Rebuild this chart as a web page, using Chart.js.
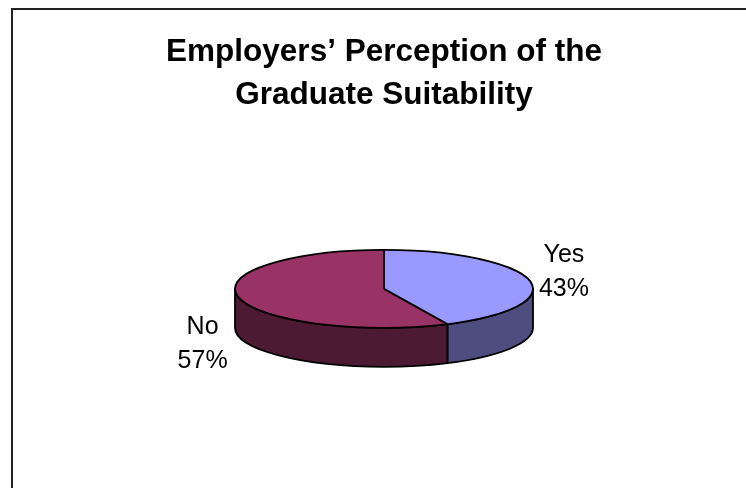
<!DOCTYPE html>
<html><head><meta charset="utf-8">
<style>html,body{margin:0;padding:0;background:#fff;overflow:hidden}
#wrap{position:absolute;left:0;top:0;width:746px;height:488px;overflow:hidden}
#frame{position:absolute;left:11px;top:8px;width:760px;height:500px;border:2px solid #222;box-sizing:border-box;pointer-events:none}
</style>
<script src="https://cdn.jsdelivr.net/npm/chart.js@4/dist/chart.umd.min.js"></script>
</head><body>
<div id="wrap"><canvas id="c" width="746" height="488"></canvas><div id="frame"></div></div>
<script>
const categories = ["Yes", "No"];
const seriesValues = [43, 57];
const topColors = ["#9999FF", "#993366"];
const sideColors = ["#4D4D80", "#4D1A33"];
const titleLines = ["Employers’ Perception of the", "Graduate Suitability"];

const SQUASH = 39 / 149, DEPTH = 39;
const LABEL_OFFSETS = [[34.5, -8], [-36, 46.5]];

function ellipsePt(a, cx, cy, r) { return [cx + r * Math.cos(a), cy + r * SQUASH * Math.sin(a)]; }

const pie3d = {
  id: "pie3d",
  beforeDatasetDraw(chart) {
    const ctx = chart.ctx, arcs = chart.getDatasetMeta(0).data;
    const { x: cx, y: cy, outerRadius: r } = arcs[0].getProps(["x", "y", "outerRadius"], true);
    ctx.save();
    ctx.strokeStyle = "#000"; ctx.lineWidth = 1.8; ctx.lineJoin = "round";
    arcs.forEach((arc, i) => {
      const p = arc.getProps(["startAngle", "endAngle"], true);
      const a0 = Math.max(p.startAngle, 0), a1 = Math.min(p.endAngle, Math.PI);
      if (a1 <= a0) return;
      ctx.beginPath();
      ctx.ellipse(cx, cy, r, r * SQUASH, 0, a0, a1);
      ctx.ellipse(cx, cy + DEPTH, r, r * SQUASH, 0, a1, a0, true);
      ctx.closePath();
      ctx.fillStyle = sideColors[i];
      ctx.fill(); ctx.stroke();
    });
    ctx.restore();
    ctx.save();
    ctx.translate(cx, cy); ctx.scale(1, SQUASH); ctx.translate(-cx, -cy);
  },
  afterDatasetDraw(chart) {
    const ctx = chart.ctx, arcs = chart.getDatasetMeta(0).data;
    ctx.restore();
    const { x: cx, y: cy, outerRadius: r } = arcs[0].getProps(["x", "y", "outerRadius"], true);
    ctx.save();
    ctx.strokeStyle = "#000"; ctx.lineWidth = 1.8; ctx.lineJoin = "round";
    ctx.beginPath(); ctx.ellipse(cx, cy, r, r * SQUASH, 0, 0, Math.PI * 2); ctx.stroke();
    arcs.forEach(arc => {
      const p = arc.getProps(["startAngle"], true);
      const [px, py] = ellipsePt(p.startAngle, cx, cy, r);
      ctx.beginPath(); ctx.moveTo(cx, cy); ctx.lineTo(px, py); ctx.stroke();
    });
    ctx.fillStyle = "#000";
    ctx.font = "25px 'Liberation Sans', Arial, sans-serif";
    ctx.textAlign = "center"; ctx.textBaseline = "middle";
    const total = seriesValues.reduce((a, b) => a + b, 0);
    arcs.forEach((arc, i) => {
      const p = arc.getProps(["startAngle", "endAngle"], true);
      const [px, py] = ellipsePt((p.startAngle + p.endAngle) / 2, cx, cy, r);
      const lx = px + LABEL_OFFSETS[i][0], ly = py + LABEL_OFFSETS[i][1];
      ctx.fillText(categories[i], lx, ly - 17);
      ctx.fillText(Math.round(seriesValues[i] / total * 100) + "%", lx, ly + 17);
    });
    ctx.restore();
  }
};

new Chart(document.getElementById("c"), {
  type: "pie",
  data: { labels: categories, datasets: [{ data: seriesValues, backgroundColor: topColors, borderWidth: 0 }] },
  options: {
    responsive: false, animation: false, radius: 149,
    layout: { padding: { left: 22, top: 31, right: 0, bottom: 27 } },
    plugins: {
      legend: { display: false }, tooltip: { enabled: false },
      title: { display: true, text: titleLines, color: "#000", padding: { top: 0, bottom: 0 },
        font: { family: "'Liberation Sans', Arial, sans-serif", size: 31.5, weight: "bold", lineHeight: 1.36 } }
    }
  },
  plugins: [pie3d]
});
</script></body></html>
